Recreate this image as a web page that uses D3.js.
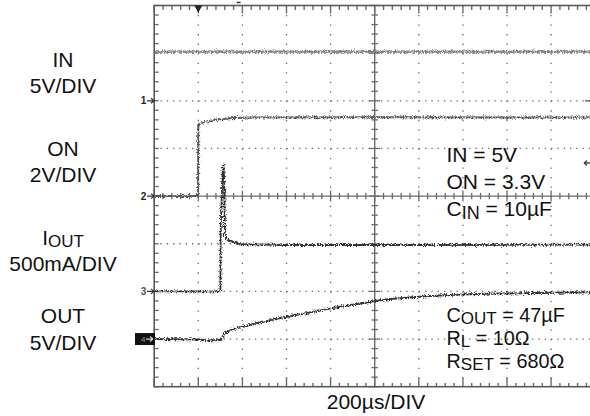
<!DOCTYPE html>
<html>
<head>
<meta charset="utf-8">
<script src="https://cdn.jsdelivr.net/npm/d3@7"></script>
<style>
  body { margin: 0; background: #fff; }
  text { font-family: "Liberation Sans", Arial, sans-serif; fill: #111; }
</style>
</head>
<body>
<div id="chart"></div>
<script>
// scope traces, time in µs from the left edge of the screen (200µs/DIV)
var inTime = [0, 2000];
var inVolts = [5.15, 5.15];

var onTime = [0, 199, 200, 230, 276, 344, 435, 1000, 2000];
var onVolts = [0, 0, 2.98, 3.12, 3.19, 3.27, 3.3, 3.31, 3.3];

var ioutTime = [0, 300, 302, 305, 311, 314, 317, 321, 343, 389, 600, 1200, 2000];
var ioutMilliamps = [0, 0, 700, 900, 1310, 1330, 1200, 560, 530, 495, 487, 487, 490];

var outTime = [0, 200, 250, 300, 307, 321, 350, 401, 493, 601, 707, 802, 933, 1001, 1200, 1400, 1600, 1800, 2000];
var outVolts = [0, -0.05, -0.15, -0.1, 0, 0.63, 0.95, 1.29, 1.81, 2.34, 2.8, 3.22, 3.72, 4.0, 4.44, 4.68, 4.79, 4.86, 4.9];

var leftLabels = [["IN", "5V/DIV"], ["ON", "2V/DIV"], ["I|OUT", "500mA/DIV"], ["OUT", "5V/DIV"]];
var notesTop = ["IN = 5V", "ON = 3.3V", "C|IN| = 10µF"];
var notesBottom = ["C|OUT| = 47µF", "R|L| = 10Ω", "R|SET| = 680Ω"];
var timeLabel = "200µs/DIV";

var width = 590, height = 416;
var divsX = 10, divsY = 8;

var svg = d3.select("#chart").append("svg")
    .attr("width", width)
    .attr("height", height);

var defs = svg.append("defs");
var filt = defs.append("filter").attr("id", "jit")
    .attr("filterUnits", "userSpaceOnUse")
    .attr("x", 0).attr("y", 0).attr("width", width).attr("height", height);
filt.append("feTurbulence").attr("type", "fractalNoise")
    .attr("baseFrequency", "1.1 0.7").attr("numOctaves", 2).attr("seed", 4).attr("result", "n");
filt.append("feDisplacementMap").attr("in", "SourceGraphic").attr("in2", "n")
    .attr("scale", 5).attr("xChannelSelector", "R").attr("yChannelSelector", "G");

// screen grid
var gx = d3.scaleLinear().domain([0, divsX]).range([154.2, 595.2]);
var gy = d3.scaleLinear().domain([0, divsY]).range([5.5, 386.7]);
var tx = d3.scaleLinear().domain([0, 2000]).range([gx(0), gx(divsX)]);

var grid = svg.append("g");

//dotted division lines
d3.range(1, divsX).filter(function (i) { return i != 5; }).forEach(function (i) {
  grid.append("line")
    .attr("x1", gx(i)).attr("x2", gx(i))
    .attr("y1", gy(0)).attr("y2", gy(divsY))
    .attr("stroke", "#666").attr("stroke-width", 1.3)
    .attr("stroke-dasharray", "1.3," + (gy(0.2) - gy(0) - 1.3));
});
d3.range(1, divsY).filter(function (j) { return j != 4; }).forEach(function (j) {
  grid.append("line")
    .attr("x1", gx(0)).attr("x2", gx(divsX))
    .attr("y1", gy(j)).attr("y2", gy(j))
    .attr("stroke", "#666").attr("stroke-width", 1.3)
    .attr("stroke-dasharray", "1.3,5");
});

// centre axes with minor ticks
var axisCol = "#6a6a6a";
grid.append("line").attr("x1", gx(0)).attr("x2", gx(divsX)).attr("y1", gy(4)).attr("y2", gy(4))
    .attr("stroke", axisCol).attr("stroke-width", 1.4);
grid.append("line").attr("x1", gx(5)).attr("x2", gx(5)).attr("y1", gy(0)).attr("y2", gy(divsY))
    .attr("stroke", axisCol).attr("stroke-width", 1.4);

d3.range(0, divsX * 5 + 1).forEach(function (k) {
  var x = gx(k / 5), big = k % 5 == 0;
  var len = big ? 5.5 : 3.2;
  grid.append("line").attr("x1", x).attr("x2", x).attr("y1", gy(4) - len).attr("y2", gy(4) + len)
      .attr("stroke", axisCol).attr("stroke-width", 1.3);
  // top border ticks
  grid.append("line").attr("x1", x).attr("x2", x).attr("y1", gy(0)).attr("y2", gy(0) + (big ? 8 : 4.5))
      .attr("stroke", axisCol).attr("stroke-width", 1.4);
  // bottom border ticks
  grid.append("line").attr("x1", x).attr("x2", x).attr("y1", gy(divsY)).attr("y2", gy(divsY) - (big ? 9 : 3.8))
      .attr("stroke", axisCol).attr("stroke-width", 1.4);
});
d3.range(0, divsY * 5 + 1).forEach(function (k) {
  var y = gy(k / 5), big = k % 5 == 0;
  var len = big ? 5.5 : 3.2;
  grid.append("line").attr("x1", gx(5) - len).attr("x2", gx(5) + len).attr("y1", y).attr("y2", y)
      .attr("stroke", axisCol).attr("stroke-width", 1.3);
  grid.append("line").attr("x1", gx(0)).attr("x2", gx(0) + 4.5).attr("y1", y).attr("y2", y)
      .attr("stroke", axisCol).attr("stroke-width", 1.3);
});

// border
grid.append("rect")
    .attr("x", gx(0)).attr("y", gy(0))
    .attr("width", gx(divsX) - gx(0)).attr("height", gy(divsY) - gy(0))
    .attr("fill", "none").attr("stroke", "#5a5a5a").attr("stroke-width", 1.6);

// trigger markers
grid.append("path")
    .attr("d", "M" + (gx(1) - 4) + "," + gy(0) + "L" + (gx(1) + 4) + "," + gy(0) + "L" + gx(1) + "," + (gy(0) + 7) + "Z")
    .attr("fill", "#222");
grid.append("line").attr("x1", gx(1.87)).attr("x2", gx(1.87) + 4).attr("y1", 2.5).attr("y2", 2.5)
    .attr("stroke", "#333").attr("stroke-width", 1.5);
grid.append("path")
    .attr("d", "M584,163L590,163M584,163L587,160.5M584,163L587,165.5")
    .attr("stroke", "#444").attr("stroke-width", 1.3).attr("fill", "none");
grid.append("line").attr("x1", 585).attr("x2", 590).attr("y1", gy(2)).attr("y2", gy(2))
    .attr("stroke", "#555").attr("stroke-width", 1.3);

// channel ground markers
var grounds = [2, 4, 6, 7];
grounds.forEach(function (g, i) {
  var y = gy(g);
  var m = svg.append("g");
  if (i == 3) {
    m.append("rect").attr("x", 135).attr("y", y - 6).attr("width", 20).attr("height", 12).attr("fill", "#111");
    m.append("text").attr("x", 141).attr("y", y + 3).attr("font-size", 8).style("fill", "#999").text("4");
    m.append("path").attr("d", "M146," + y + "L153," + y + "M153," + y + "L150," + (y - 2.5) + "M153," + y + "L150," + (y + 2.5))
      .attr("stroke", "#ccc").attr("stroke-width", 1.2).attr("fill", "none");
  } else {
    m.append("text").attr("x", 143.5).attr("y", y + 3.5).attr("text-anchor", "middle")
      .attr("font-size", 10).attr("font-weight", "bold").style("fill", i == 2 ? "#555" : "#222").text(i + 1);
    m.append("path").attr("d", "M147," + y + "L154," + y + "M154," + y + "L151," + (y - 2.5) + "M154," + y + "L151," + (y + 2.5))
      .attr("stroke", "#333").attr("stroke-width", 1.2).attr("fill", "none");
  }
});

// traces
function chScale(ground, perDiv) {
  return d3.scaleLinear().domain([0, perDiv]).range([gy(ground), gy(ground - 1)]);
}
var yIn = chScale(2, 5), yOn = chScale(4, 2), yIout = chScale(6, 500), yOut = chScale(7, 5);

function trace(times, vals, ys, col, w, curve) {
  var pts = times.map(function (d, i) { return [d, vals[i]]; });
  var line = d3.line().x(function (d) { return tx(d[0]); }).y(function (d) { return ys(d[1]); })
      .curve(curve || d3.curveLinear);
  traces.append("path").datum(pts).attr("d", line)
      .attr("fill", "none").attr("stroke", col).attr("stroke-width", w).attr("stroke-linejoin", "round");
}
var traces = svg.append("g").attr("filter", "url(#jit)");
trace(inTime, inVolts, yIn, "#7a7a7a", 2.2);
trace(onTime, onVolts, yOn, "#555", 2);
trace(ioutTime, ioutMilliamps, yIout, "#333", 1.8);
trace(outTime, outVolts, yOut, "#333", 2, d3.curveMonotoneX);

// text with "|" marking subscript parts
function richText(sel, str, subSize, shift) {
  var parts = str.split("|");
  parts.forEach(function (p, i) {
    var ts = sel.append("tspan").text(p);
    if (i % 2 == 1) ts.attr("font-size", subSize).attr("dy", shift);
    else if (i > 0) ts.attr("dy", -shift);
  });
}

var labelY = [[66.7, 93], [156, 181.7], [245, 271], [322.7, 350]];
leftLabels.forEach(function (pair, i) {
  pair.forEach(function (s, j) {
    var t = svg.append("text").attr("x", 63).attr("y", labelY[i][j])
        .attr("text-anchor", "middle").attr("font-size", 21);
    richText(t, s, 17, 2);
  });
});

notesTop.forEach(function (s, i) {
  var t = svg.append("text").attr("x", 446.5).attr("y", 161.7 + i * 27).attr("font-size", 21);
  richText(t, s, 18, 3.5);
});
notesBottom.forEach(function (s, i) {
  var t = svg.append("text").attr("x", 446.5).attr("y", 322.3 + i * 23).attr("font-size", 19.8);
  richText(t, s, 17, 1.5);
});

svg.append("text").attr("x", 376).attr("y", 408.5).attr("text-anchor", "middle")
    .attr("font-size", 21).text(timeLabel);
</script>
</body>
</html>
